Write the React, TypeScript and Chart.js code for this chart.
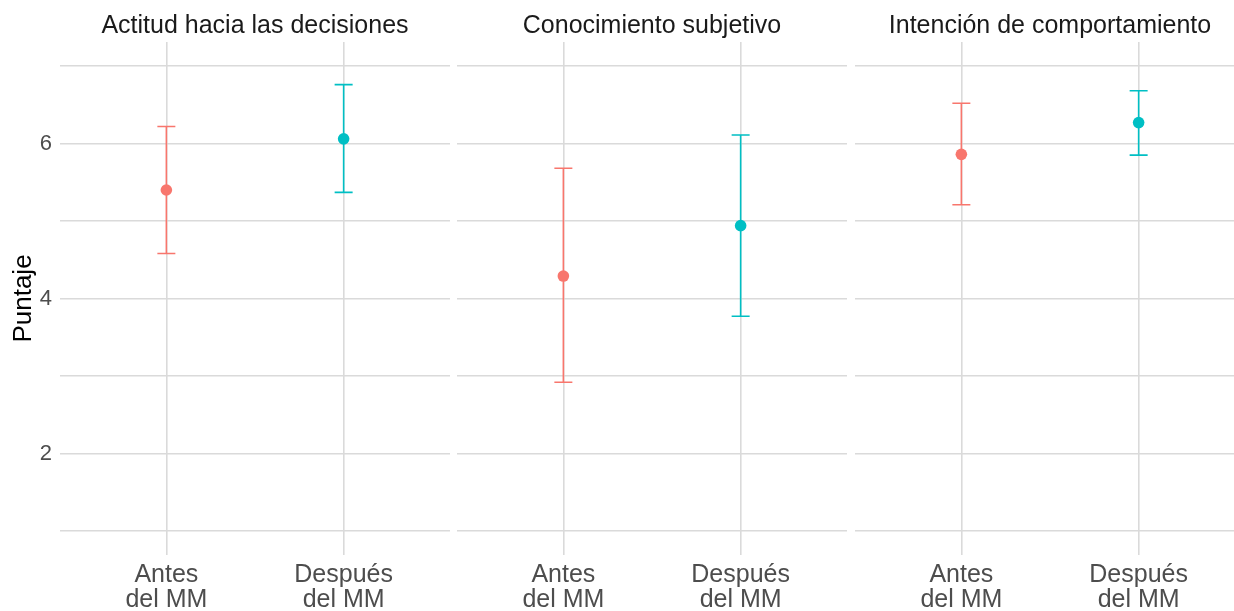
import React, { useEffect, useRef } from 'react';
import { Chart, registerables } from 'chart.js';

Chart.register(...registerables);

// ---- data ----
const panelTitles = ['Actitud hacia las decisiones', 'Conocimiento subjetivo', 'Intención de comportamiento'];
const groupLabels = [['Antes', 'del MM'], ['Después', 'del MM']];
const meanAntes = [5.4, 4.29, 5.86];
const lowAntes = [4.58, 2.92, 5.21];
const highAntes = [6.22, 5.68, 6.52];
const meanDespues = [6.06, 4.94, 6.27];
const lowDespues = [5.37, 3.77, 5.85];
const highDespues = [6.76, 6.11, 6.68];
const yGridValues = [1, 2, 3, 4, 5, 6, 7];
const yLabelValues = [2, 4, 6];
const yAxisTitle = 'Puntaje';

const COLOR_ANTES = '#F8766D';
const COLOR_DESPUES = '#00BFC4';
const GRID = '#dadada';
const FONT = '"Liberation Sans", Arial, sans-serif';

const errorBarPlugin = {
  id: 'errorBars',
  beforeDatasetsDraw(chart: any) {
    const ctx = chart.ctx;
    const xs = chart.scales.x;
    const ys = chart.scales.y;
    chart.data.datasets.forEach((ds: any) => {
      ds.data.forEach((pt: any) => {
        const x = xs.getPixelForValue(pt.x);
        const yl = ys.getPixelForValue(pt.low);
        const yh = ys.getPixelForValue(pt.high);
        ctx.save();
        ctx.strokeStyle = ds.borderColor;
        ctx.lineWidth = 1.6;
        ctx.beginPath();
        ctx.moveTo(x, yl);
        ctx.lineTo(x, yh);
        ctx.moveTo(x - 9, yl);
        ctx.lineTo(x + 9, yl);
        ctx.moveTo(x - 9, yh);
        ctx.lineTo(x + 9, yh);
        ctx.stroke();
        ctx.restore();
      });
    });
  },
};

const panelTitlePlugin = {
  id: 'panelTitle',
  afterDraw(chart: any) {
    const title = chart.options.plugins.panelTitle?.text;
    if (!title) return;
    const ctx = chart.ctx;
    const { left, right } = chart.chartArea;
    ctx.save();
    ctx.font = `25px ${FONT}`;
    ctx.fillStyle = '#1a1a1a';
    ctx.textAlign = 'center';
    ctx.textBaseline = 'alphabetic';
    ctx.fillText(title, (left + right) / 2, 33);
    ctx.restore();
  },
};

function Panel({ index, left, width, showY }: { index: number; left: number; width: number; showY: boolean }) {
  const ref = useRef<HTMLCanvasElement>(null);
  useEffect(() => {
    if (!ref.current) return;
    const chart = new Chart(ref.current, {
      type: 'scatter',
      data: {
        datasets: [
          {
            label: 'Antes',
            data: [{ x: 0, y: meanAntes[index], low: lowAntes[index], high: highAntes[index] } as any],
            backgroundColor: COLOR_ANTES,
            borderColor: COLOR_ANTES,
            pointRadius: 5.8,
            pointBorderWidth: 0,
          },
          {
            label: 'Después',
            data: [{ x: 1, y: meanDespues[index], low: lowDespues[index], high: highDespues[index] } as any],
            backgroundColor: COLOR_DESPUES,
            borderColor: COLOR_DESPUES,
            pointRadius: 5.8,
            pointBorderWidth: 0,
          },
        ],
      },
      options: {
        responsive: false,
        animation: false,
        layout: { autoPadding: false, padding: { top: 42, left: 0, right: 0, bottom: 0 } },
        plugins: {
          legend: { display: false },
          tooltip: { enabled: false },
          panelTitle: { text: panelTitles[index] },
        } as any,
        scales: {
          x: {
            type: 'linear',
            min: -0.6,
            max: 1.6,
            afterBuildTicks: (s: any) => {
              s.ticks = [{ value: 0 }, { value: 1 }];
            },
            afterFit: (s: any) => {
              s.height = 56;
            },
            grid: { color: GRID, lineWidth: 1.6, drawTicks: false },
            border: { display: false },
            ticks: {
              padding: 8,
              color: '#4d4d4d',
              font: { family: FONT, size: 25, lineHeight: 1 },
              maxRotation: 0,
              autoSkip: false,
              callback: (_v: any, i: number) => groupLabels[i],
            },
          },
          y: {
            type: 'linear',
            min: 0.69,
            max: 7.31,
            afterBuildTicks: (s: any) => {
              s.ticks = yGridValues.map((v) => ({ value: v }));
            },
            afterFit: (s: any) => {
              s.width = showY ? 60 : 0;
            },
            grid: { color: GRID, lineWidth: 1.6, drawTicks: false },
            border: { display: false },
            ticks: {
              display: showY,
              padding: 8,
              color: '#4d4d4d',
              font: { family: FONT, size: 22 },
              callback: (v: any) => (yLabelValues.includes(Number(v)) ? String(v) : ''),
            },
            title: {
              display: showY,
              text: yAxisTitle,
              color: '#000000',
              font: { family: FONT, size: 26, lineHeight: 1.2 },
              padding: { top: 8, bottom: 0 },
            },
          },
        },
      } as any,
      plugins: [errorBarPlugin, panelTitlePlugin],
    });
    return () => chart.destroy();
  }, [index, showY]);
  return (
    <canvas
      ref={ref}
      width={width}
      height={611}
      style={{ position: 'absolute', left, top: 0, width, height: 611 }}
    />
  );
}

export default function App() {
  return (
    <div
      style={{
        position: 'fixed',
        left: 0,
        top: 0,
        width: 1234,
        height: 611,
        overflow: 'hidden',
        background: '#ffffff',
      }}
    >
      <Panel index={0} left={0} width={450} showY={true} />
      <Panel index={1} left={457} width={390} showY={false} />
      <Panel index={2} left={855} width={390} showY={false} />
    </div>
  );
}
